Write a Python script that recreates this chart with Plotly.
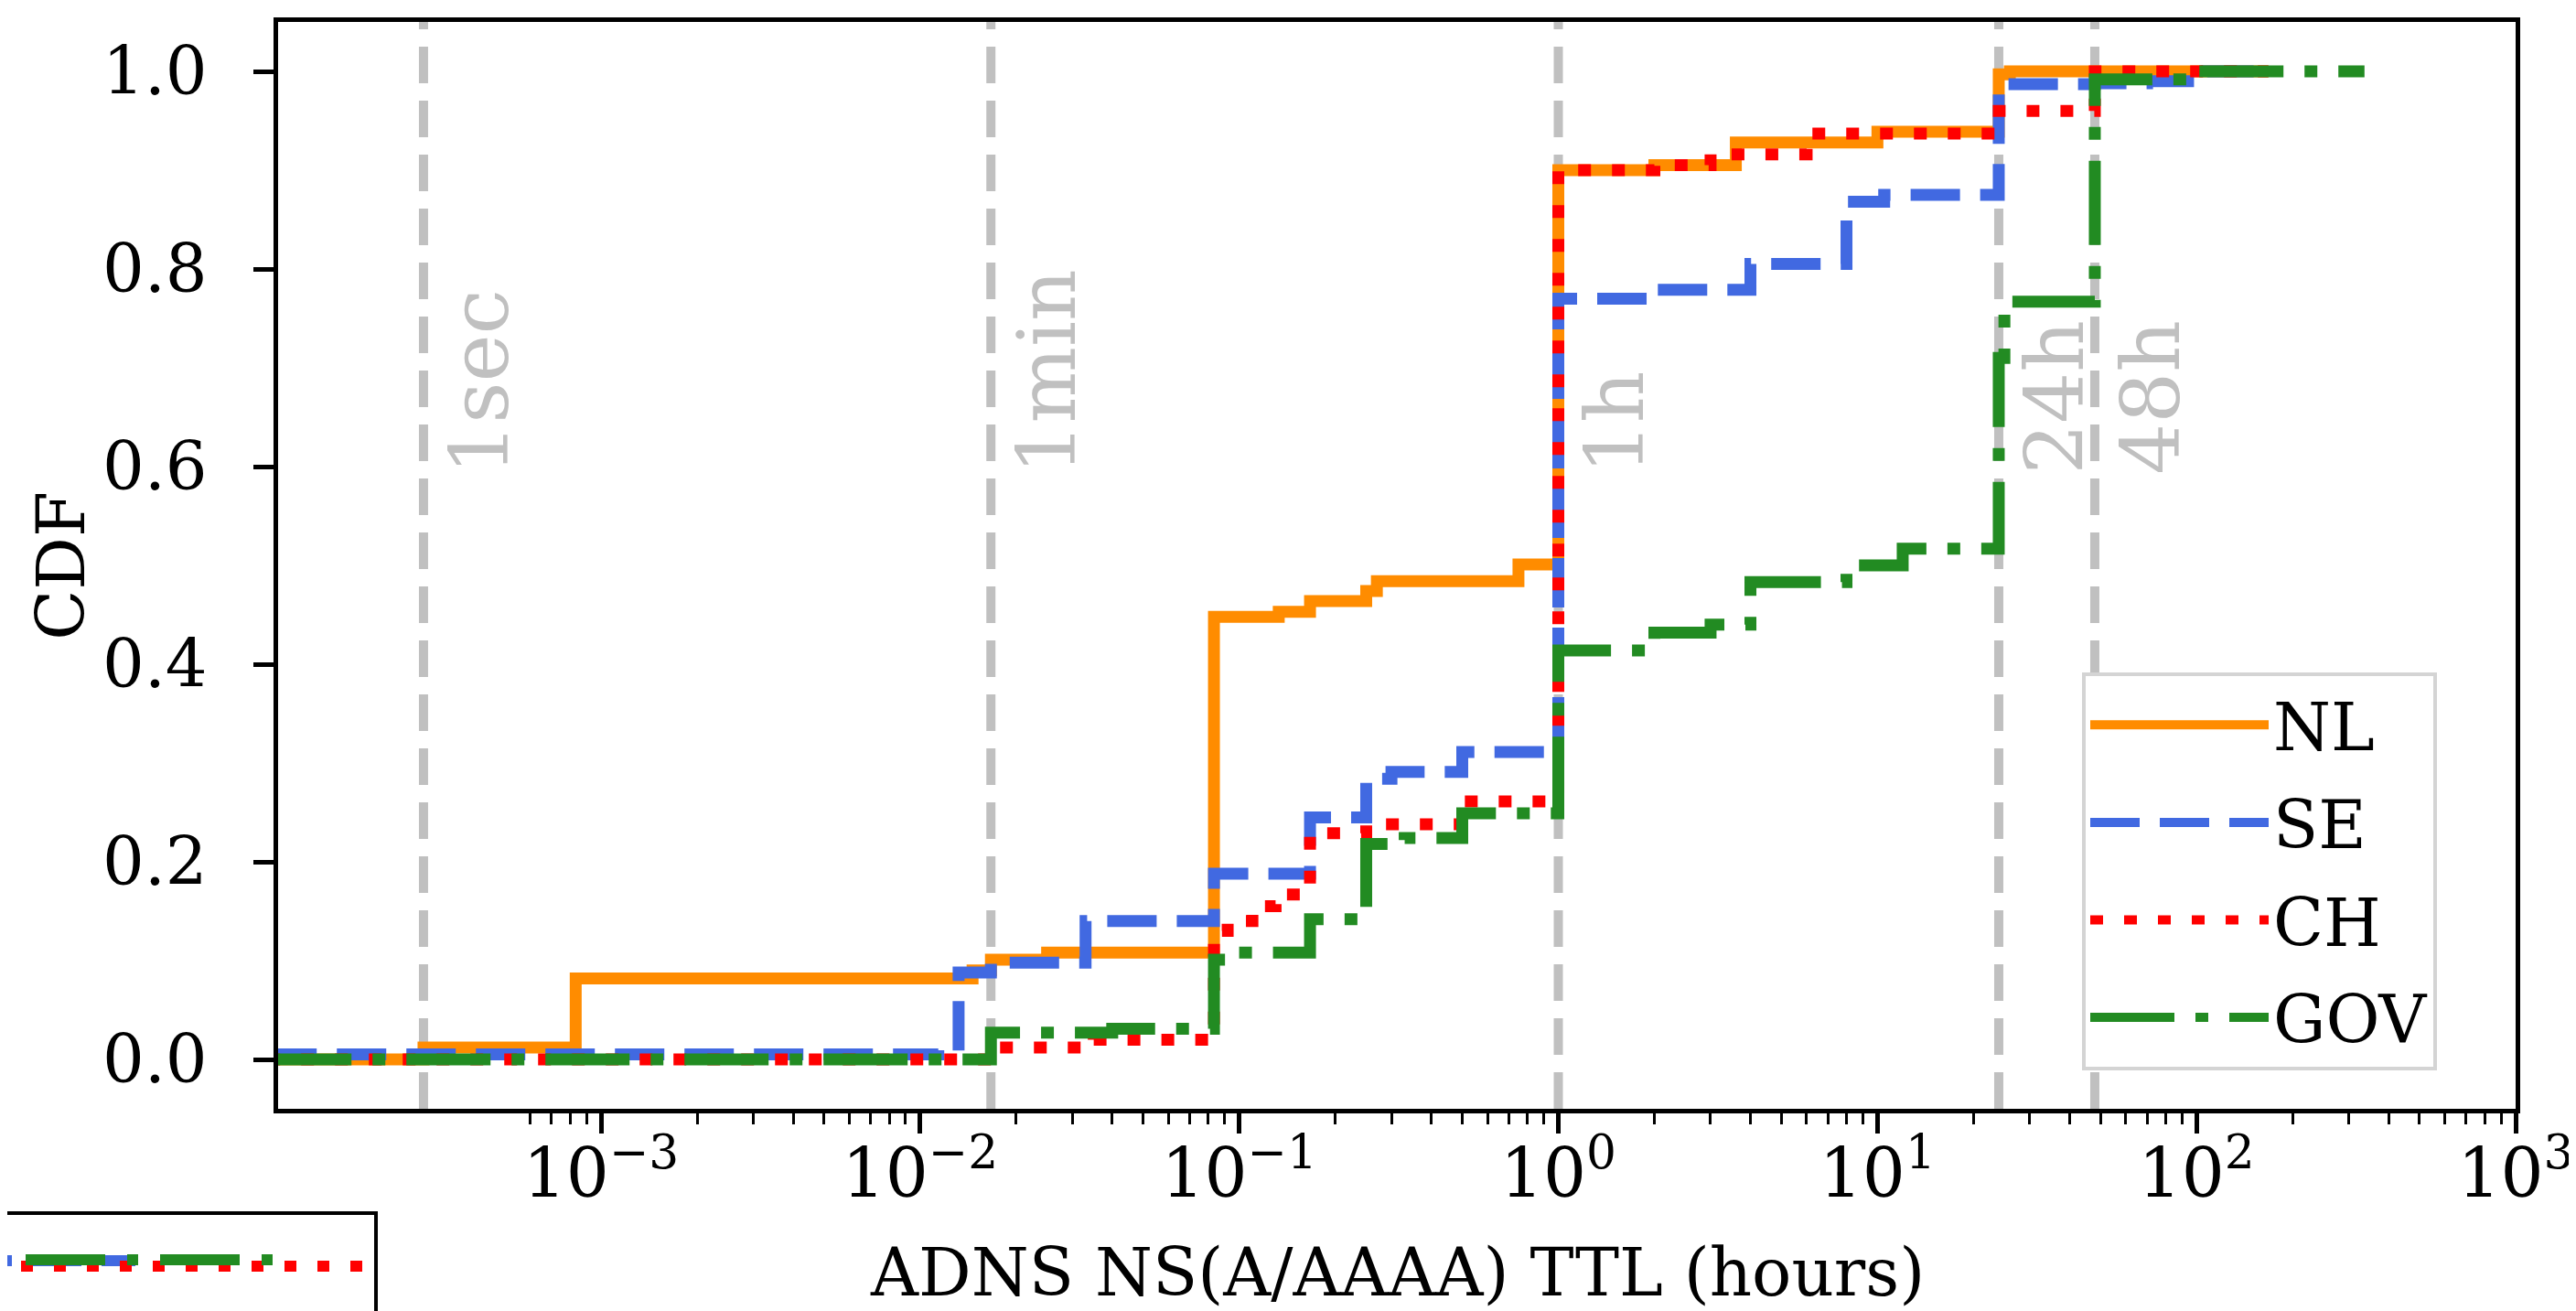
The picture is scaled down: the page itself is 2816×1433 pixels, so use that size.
import math
import plotly.graph_objects as go

# ---------------- data (hours, CDF) ----------------
series_names = ["NL", "SE", "CH", "GOV"]

nl_x = [9e-5, 1/3600, 8.33e-4, 0.0146, 1/60, 0.025, 1/12, 0.133, 1/6, 0.25, 0.27, 0.75, 1, 2, 3.6, 10, 24, 26, 168]
nl_y = [0.0, 0.012, 0.082, 0.090, 0.101, 0.108, 0.448, 0.453, 0.464, 0.474, 0.484, 0.501, 0.900, 0.905, 0.928, 0.939, 0.997, 1.0, 1.0]

se_x = [9e-5, 0.0114, 0.0132, 1/60, 0.033, 1/12, 1/6, 0.25, 0.3, 0.5, 1, 2, 4, 8, 10.5, 24, 48, 70, 108, 168]
se_y = [0.005, 0.015, 0.088, 0.098, 0.140, 0.188, 0.245, 0.284, 0.291, 0.311, 0.770, 0.779, 0.805, 0.868, 0.875, 0.987, 0.988, 0.990, 1.0, 1.0]

ch_x = [9e-5, 1/60, 0.035, 1/12, 0.092, 0.11, 0.13, 0.155, 1/6, 0.25, 0.5, 1, 2, 3, 6, 24, 48, 168]
ch_y = [0.0, 0.012, 0.020, 0.130, 0.140, 0.155, 0.167, 0.175, 0.229, 0.238, 0.261, 0.900, 0.905, 0.916, 0.937, 0.960, 1.0, 1.0]

gov_x = [9e-5, 1/60, 0.04, 1/12, 0.093, 1/6, 0.25, 0.33, 0.5, 1, 2, 3, 4, 8, 12, 24, 25, 48, 95, 336]
gov_y = [0.0, 0.027, 0.031, 0.101, 0.108, 0.142, 0.218, 0.224, 0.249, 0.414, 0.432, 0.440, 0.483, 0.500, 0.517, 0.710, 0.767, 0.992, 1.0, 1.0]

ref_hours = [1/3600, 1/60, 1, 24, 48]
ref_labels = ["1sec", "1min", "1h", "24h", "48h"]

x_tick_vals = [1e-3, 1e-2, 1e-1, 1e0, 1e1, 1e2, 1e3]
x_tick_text = ["10<sup>−3</sup>", "10<sup>−2</sup>", "10<sup>−1</sup>", "10<sup>0</sup>",
               "10<sup>1</sup>", "10<sup>2</sup>", "10<sup>3</sup>"]
y_tick_vals = [0.0, 0.2, 0.4, 0.6, 0.8, 1.0]

# ---------------- styles ----------------
colors = ["#FF8C00", "#4169E1", "#FF0000", "#228B22"]
dashes = ["solid", "54px,22px", "14px,23px", "92px,23px,14px,23px"]
LW = 13
FONT = "DejaVu Serif"

fig = go.Figure()
for name, xs, ys, c, d in zip(series_names, [nl_x, se_x, ch_x, gov_x], [nl_y, se_y, ch_y, gov_y], colors, dashes):
    fig.add_trace(go.Scatter(x=xs, y=ys, mode="lines", name=name, legendgroup=name,
                             line=dict(color=c, width=LW, dash=d, shape="hv")))

shapes = []
annotations = []
for h, lab in zip(ref_hours, ref_labels):
    shapes.append(dict(type="line", xref="x", yref="paper", x0=h, x1=h, y0=0, y1=1,
                       line=dict(color="#c0c0c0", width=10, dash="40px,19px"), layer="below"))
    annotations.append(dict(x=math.log10(h), y=0.59, xref="x", yref="y", text=lab, showarrow=False,
                            textangle=-90, xanchor="left", yanchor="bottom", xshift=8,
                            font=dict(family=FONT, size=88, color="#c0c0c0")))

# axis titles
annotations.append(dict(x=0.5, y=-0.188, xref="paper", yref="paper", text="ADNS NS(A/AAAA) TTL (hours)",
                        showarrow=False, xanchor="center", yanchor="bottom",
                        font=dict(family=FONT, size=72, color="black")))
annotations.append(dict(x=-0.097, y=0.5, xref="paper", yref="paper", text="CDF", textangle=-90,
                        showarrow=False, xanchor="center", yanchor="middle",
                        font=dict(family=FONT, size=72, color="black")))

# clipped fragment of a second legend box at bottom-left
W, H = 2446.0, 1188.0
TOP = 16
def px(x):
    return (x - 296) / W
def py(y):
    return (TOP + H - y) / H
shapes.append(dict(type="rect", xref="paper", yref="paper", x0=px(-20), x1=px(403), y0=py(1318), y1=py(1460),
                   line=dict(color="black", width=4), fillcolor="white"))
shapes.append(dict(type="line", xref="paper", yref="paper", x0=px(-49), x1=px(140), y0=py(1370), y1=py(1370),
                   line=dict(color=colors[1], width=12, dash="54px,22px")))
shapes.append(dict(type="line", xref="paper", yref="paper", x0=px(15), x1=px(392), y0=py(1376), y1=py(1376),
                   line=dict(color=colors[2], width=12, dash="13px,23px")))
shapes.append(dict(type="line", xref="paper", yref="paper", x0=px(20), x1=px(292), y0=py(1369), y1=py(1369),
                   line=dict(color=colors[3], width=12, dash="87px,24px,12px,24px")))

minor_vals = [k * 1e-4 for k in range(6, 10)]
for e in range(-3, 3):
    minor_vals += [k * 10.0 ** e for k in range(2, 10)]

fig.update_layout(
    width=2816, height=1433,
    margin=dict(l=296, r=74, t=TOP, b=1433 - TOP - int(H), autoexpand=False),
    paper_bgcolor="white", plot_bgcolor="white",
    font=dict(family=FONT, size=72, color="black"),
    shapes=shapes, annotations=annotations,
    showlegend=True,
    legend=dict(x=px(2268), y=py(1162), xanchor="left", yanchor="bottom",
                bgcolor="white", bordercolor="#d4d4d4", borderwidth=4,
                font=dict(family=FONT, size=72, color="black"), itemwidth=195,
                traceorder="grouped", tracegroupgap=10),
    xaxis=dict(type="log", range=[-4.012, 3.0], showgrid=False, zeroline=False, automargin=False,
               showline=True, linecolor="black", linewidth=5, mirror=True,
               ticks="outside", ticklen=22, tickwidth=5, tickcolor="black",
               tickmode="array", tickvals=x_tick_vals, ticktext=x_tick_text,
               tickfont=dict(family=FONT, size=74, color="black"), ticklabelstandoff=-20,
               minor=dict(ticks="outside", ticklen=12, tickwidth=3, tickcolor="black",
                          tickmode="array", tickvals=minor_vals, showgrid=False)),
    yaxis=dict(range=[-0.05, 1.05], showgrid=False, zeroline=False, automargin=False,
               showline=True, linecolor="black", linewidth=5, mirror=True,
               ticks="outside", ticklen=22, tickwidth=5, tickcolor="black",
               tickmode="array", tickvals=y_tick_vals, tickformat=".1f",
               tickfont=dict(family=FONT, size=72, color="black"), ticklabelstandoff=36),
)

fig.write_html("out.html")
